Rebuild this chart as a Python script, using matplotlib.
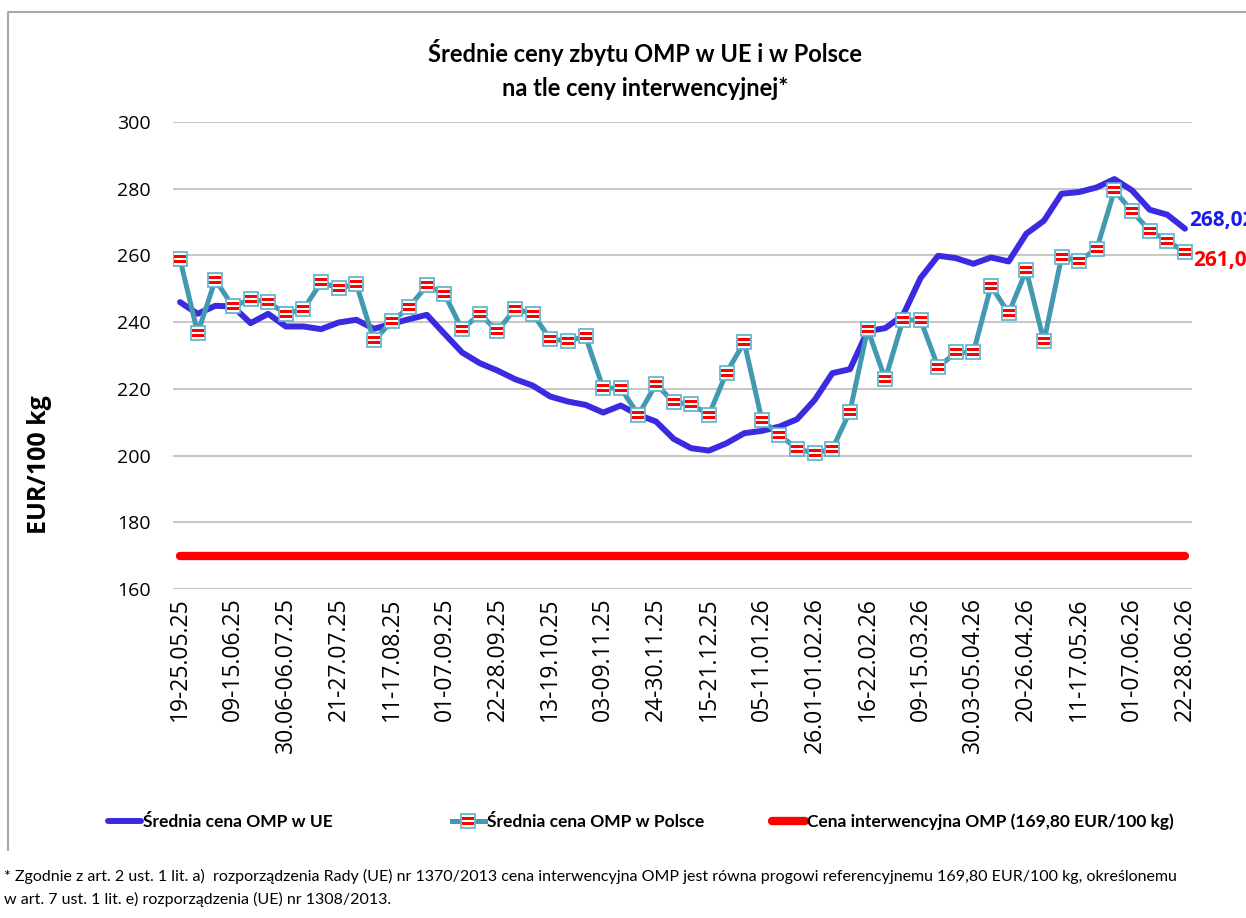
"""Średnie ceny zbytu OMP w UE i w Polsce na tle ceny interwencyjnej."""

import matplotlib
matplotlib.use('Agg')
import matplotlib.pyplot as plt
from matplotlib import font_manager
from matplotlib.lines import Line2D
from matplotlib.path import Path

# data (EUR/100 kg), weekly, 19-25.05.25 ... 22-28.06.26
weeks = [
    '19-25.05.25', '26.05-01.06.25', '02-08.06.25', '09-15.06.25', '16-22.06.25',
    '23-29.06.25', '30.06-06.07.25', '07-13.07.25', '14-20.07.25', '21-27.07.25',
    '28.07-03.08.25', '04-10.08.25', '11-17.08.25', '18-24.08.25', '25-31.08.25',
    '01-07.09.25', '08-14.09.25', '15-21.09.25', '22-28.09.25', '29.09-05.10.25',
    '06-12.10.25', '13-19.10.25', '20-26.10.25', '27.10-02.11.25', '03-09.11.25',
    '10-16.11.25', '17-23.11.25', '24-30.11.25', '01-07.12.25', '08-14.12.25',
    '15-21.12.25', '22-28.12.25', '29.12-04.01.26', '05-11.01.26', '12-18.01.26',
    '19-25.01.26', '26.01-01.02.26', '02-08.02.26', '09-15.02.26', '16-22.02.26',
    '23.02-01.03.26', '02-08.03.26', '09-15.03.26', '16-22.03.26', '23-29.03.26',
    '30.03-05.04.26', '06-12.04.26', '13-19.04.26', '20-26.04.26', '27.04-03.05.26',
    '04-10.05.26', '11-17.05.26', '18-24.05.26', '25-31.05.26', '01-07.06.26',
    '08-14.06.26', '15-21.06.26', '22-28.06.26',
]

ue = [
    246.0, 242.5, 244.9, 244.7, 239.7, 242.5, 238.7, 238.7, 237.9, 239.9,
    240.7, 238.0, 239.5, 240.9, 242.2, 236.5, 230.9, 227.7, 225.5, 222.9,
    221.0, 217.7, 216.2, 215.2, 212.9, 215.0, 212.2, 210.2, 205.0, 202.2,
    201.5, 203.7, 206.7, 207.4, 208.7, 210.9, 216.7, 224.7, 225.9, 237.3,
    238.2, 242.0, 253.2, 259.9, 259.2, 257.5, 259.4, 258.2, 266.5, 270.4,
    278.5, 279.0, 280.4, 282.9, 279.5, 273.7, 272.2, 268.02,
]

polska = [
    258.8, 236.7, 252.7, 244.7, 246.9, 246.0, 242.5, 243.9, 251.9, 250.2,
    251.4, 234.5, 240.2, 244.5, 251.0, 248.4, 237.8, 242.5, 237.3, 244.0,
    242.5, 234.9, 234.4, 235.7, 220.2, 220.2, 212.2, 221.4, 216.0, 215.4,
    212.2, 224.9, 234.0, 210.7, 206.2, 202.0, 200.7, 202.0, 213.2, 237.9,
    222.9, 240.6, 240.7, 226.5, 230.9, 230.9, 250.9, 242.7, 255.5, 234.2,
    259.5, 258.4, 262.0, 279.5, 273.2, 267.4, 264.4, 261.0,
]

interwencja = 169.80

BLUE = '#3A2BE0'
TEAL = '#4399B0'
RED = '#FF0000'

available = {f.name for f in font_manager.fontManager.ttflist}
NARROW = 'Lato' if 'Lato' in available else 'DejaVu Sans'
TICKS = 'Open Sans' if 'Open Sans' in available else 'DejaVu Sans'

W, H = 1246, 918
fig = plt.figure(figsize=(W / 100, H / 100), dpi=100)
ax = fig.add_axes([173 / W, 1 - 589 / H, (1192 - 173) / W, (589 - 122) / H])

x = list(range(len(weeks)))

# striped marker (red stripes on white square)
verts, codes = [], []
for y0, y1 in [(-0.38, -0.09), (0.09, 0.38)]:
    verts += [(-0.5, y0), (0.5, y0), (0.5, y1), (-0.5, y1), (-0.5, y0)]
    codes += [Path.MOVETO, Path.LINETO, Path.LINETO, Path.LINETO, Path.CLOSEPOLY]
stripes = Path(verts, codes)

ax.plot(x, [interwencja] * len(x), color=RED, lw=6, solid_capstyle='round', zorder=2)
ue_line, = ax.plot(x, ue, color=BLUE, lw=4.3, solid_capstyle='round', zorder=3)
pl_line, = ax.plot(x, polska, color=TEAL, lw=3.6, marker='s', ms=10,
                   mfc='white', mec='#5BB0C8', mew=1.2, zorder=4)
pl_str, = ax.plot(x, polska, ls='none', marker=stripes, ms=8.4,
                  mfc=RED, mew=0, zorder=5)

ax.set_xlim(-0.4, len(x) - 0.6)
ax.set_ylim(160, 300)
ax.set_yticks(range(160, 301, 20))
ax.set_xticks(x[::3])
ax.set_xticklabels(weeks[::3], rotation=90, fontsize=16.5, fontfamily=TICKS)
for lab in ax.get_yticklabels():
    lab.set_fontsize(14)
    lab.set_fontfamily(TICKS)
ax.tick_params(axis='x', length=0, pad=6)
ax.tick_params(axis='y', length=0, pad=16)
ax.grid(axis='y', color='#C8C8C8', lw=1.5)
ax.set_axisbelow(True)
for s in ax.spines.values():
    s.set_visible(False)

# end-point values (cut by the right edge, as in the source chart)
ax.annotate('268,02', (x[-1], ue[-1]), xytext=(3, 6), textcoords='offset points',
            color='#1A1AF0', fontsize=15, fontweight='bold', family=TICKS, va='center')
ax.annotate('261,00', (x[-1], polska[-1]), xytext=(6, -6), textcoords='offset points',
            color=RED, fontsize=15, fontweight='bold', family=TICKS, va='center')

fig.text(645 / W, 1 - 52 / H, 'Średnie ceny zbytu OMP w UE i w Polsce',
         ha='center', va='center', fontsize=17, fontweight='bold', family=NARROW)
fig.text(645 / W, 1 - 88 / H, 'na tle ceny interwencyjnej*',
         ha='center', va='center', fontsize=17, fontweight='bold', family=NARROW)
fig.text(40 / W, 1 - 465 / H, 'EUR/100 kg', rotation=90, ha='center', va='center',
         fontsize=18, fontweight='bold', family=TICKS)

# legend, three separate entries as in the original
entries = [
    (ue_line, 'Średnia cena OMP w UE', 108),
    ((pl_line, pl_str), 'Średnia cena OMP w Polsce', 452),
    (Line2D([], [], color=RED, lw=6, solid_capstyle='round'),
     'Cena interwencyjna OMP (169,80 EUR/100 kg)', 772),
]
for handle, label, px in entries:
    fig.legend([handle], [label], loc='center left',
               bbox_to_anchor=(px / W, 1 - 822 / H), frameon=False,
               borderpad=0, borderaxespad=0, handlelength=1.9,
               handletextpad=0.1, prop={'family': NARROW, 'weight': 'bold', 'size': 12.5})

fig.text(4 / W, 1 - 876 / H,
         '* Zgodnie z art. 2 ust. 1 lit. a)  rozporządzenia Rady (UE) nr 1370/2013 cena '
         'interwencyjna OMP jest równa progowi referencyjnemu 169,80 EUR/100 kg, określonemu',
         va='center', fontsize=11.5, family=NARROW)
fig.text(4 / W, 1 - 899 / H,
         'w art. 7 ust. 1 lit. e) rozporządzenia (UE) nr 1308/2013.',
         va='center', fontsize=11.5, family=NARROW)

# chart frame (top and left edges visible)
fig.add_artist(Line2D([8 / W, 8 / W, 1], [1 - 850 / H, 1 - 12 / H, 1 - 12 / H],
                      color='#A8A8A8', lw=1.5))

fig.savefig('out.png', dpi=100)
